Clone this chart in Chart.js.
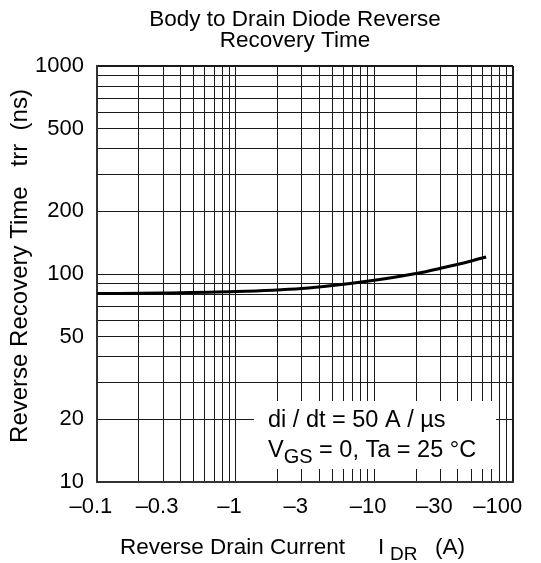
<!DOCTYPE html>
<html>
<head>
<meta charset="utf-8">
<script src="https://cdn.jsdelivr.net/npm/chart.js@4.4.0/dist/chart.umd.min.js"></script>
<style>
  html, body { margin: 0; padding: 0; background: #fff; }
  #wrap { width: 541px; height: 563px; }
</style>
</head>
<body>
<div id="wrap"><canvas id="trrChart" width="541" height="563"></canvas></div>
<script>
// reverse drain current (A, magnitude) and recovery time (ns)
var currentA = [0.1, 0.3, 1, 3, 5, 10, 20, 30, 50, 64];
var trrNs    = [80.5, 81.0, 82.3, 85.2, 88.0, 93.3, 100.5, 106.5, 115.5, 120.8];

// axis ticks
var xGridValues = [0.1, 0.2, 0.3, 0.4, 0.5, 0.6, 0.7, 0.8, 0.9,
                   1, 2, 3, 4, 5, 6, 7, 8, 9,
                   10, 20, 30, 40, 50, 60, 70, 80, 90, 100];
var xTickValues = [0.1, 0.3, 1, 3, 10, 30, 100];
var xTickLabels = ['\u20130.1', '\u20130.3', '\u20131', '\u20133', '\u201310', '\u201330', '\u2013100'];

var yGridValues = [10, 20, 30, 40, 50, 60, 70, 80, 90,
                   100, 200, 300, 400, 500, 600, 700, 800, 900, 1000];
var yTickValues = [10, 20, 50, 100, 200, 500, 1000];
var yTickLabels = ['10', '20', '50', '100', '200', '500', '1000'];

var FONT = '"Liberation Sans", Arial, Helvetica, sans-serif';

// plot frame a bit heavier than the grid
function xGridWidth(ctx) { return ctx.tick && ctx.tick.value === 100 ? 2 : 1; }
function yGridWidth(ctx) { return ctx.tick && ctx.tick.value === 1000 ? 2 : 1; }

var textPlugin = {
  id: 'textPlugin',
  afterDraw: function(chart) {
    var ctx = chart.ctx;
    ctx.save();
    ctx.fillStyle = '#000';

    // title
    ctx.font = '22.5px ' + FONT;
    ctx.textAlign = 'center';
    ctx.textBaseline = 'alphabetic';
    ctx.fillText('Body to Drain Diode Reverse', 295, 26);
    ctx.fillText('Recovery Time', 295, 47);

    // y axis title
    ctx.save();
    ctx.translate(27, 266);
    ctx.rotate(-Math.PI / 2);
    ctx.font = '24px ' + FONT;
    ctx.textAlign = 'center';
    ctx.fillText('Reverse Recovery Time   trr  (ns)', 0, 0);
    ctx.restore();

    // x axis title with subscript
    ctx.textAlign = 'left';
    ctx.font = '22.5px ' + FONT;
    ctx.fillText('Reverse Drain Current', 120, 554);
    ctx.fillText('I', 378, 554);
    ctx.font = '19px ' + FONT;
    ctx.fillText('DR', 390, 560);
    ctx.font = '22.5px ' + FONT;
    ctx.fillText('(A)', 435, 554);

    // condition box
    ctx.fillStyle = '#fff';
    ctx.fillRect(254, 401, 242, 68);
    ctx.fillStyle = '#000';
    ctx.font = '23.5px ' + FONT;
    ctx.fillText('di / dt = 50 A / \u00b5s', 268, 427);
    ctx.fillText('V', 268, 457);
    var w = ctx.measureText('V').width;
    ctx.font = '20px ' + FONT;
    ctx.fillText('GS', 268 + w, 463);
    var w2 = ctx.measureText('GS').width;
    ctx.font = '23.5px ' + FONT;
    ctx.fillText(' = 0, Ta = 25 \u00b0C', 268 + w + w2, 457);

    ctx.restore();
  }
};

var chart = new Chart(document.getElementById('trrChart'), {
  type: 'line',
  data: {
    datasets: [{
      data: currentA.map(function(x, i) { return { x: x, y: trrNs[i] }; }),
      borderColor: '#000',
      borderWidth: 3,
      pointRadius: 0,
      fill: false,
      cubicInterpolationMode: 'monotone'
    }]
  },
  options: {
    responsive: false,
    animation: false,
    devicePixelRatio: 1,
    layout: { padding: { left: 0, top: 66, right: 28, bottom: 0 } },
    plugins: {
      legend: { display: false },
      title: { display: false },
      tooltip: { enabled: false }
    },
    scales: {
      x: {
        type: 'logarithmic',
        min: 0.1,
        max: 100,
        afterBuildTicks: function(scale) {
          scale.ticks = xGridValues.map(function(v) { return { value: v }; });
        },
        afterFit: function(scale) {
          scale.height = 81;
          scale.paddingLeft = 0;
          scale.paddingRight = 0;
        },
        grid: { color: '#1a1a1a', lineWidth: xGridWidth, drawTicks: false },
        border: { color: '#333', width: 2 },
        ticks: {
          autoSkip: false,
          maxRotation: 0,
          padding: 12,
          color: '#000',
          font: { family: FONT, size: 22 },
          callback: function(value) {
            var i = xTickValues.indexOf(value);
            if (i < 0) return '';
            // trailing spaces so the number, not the minus sign, sits on the grid line
            // (last one pulled in a little more, as in the original)
            return xTickLabels[i] + (value === 100 ? '     ' : '  ');
          }
        }
      },
      y: {
        type: 'logarithmic',
        min: 10,
        max: 1000,
        afterBuildTicks: function(scale) {
          scale.ticks = yGridValues.map(function(v) { return { value: v }; });
        },
        afterFit: function(scale) {
          scale.width = 97;
          scale.paddingTop = 0;
          scale.paddingBottom = 0;
        },
        grid: { color: '#1a1a1a', lineWidth: yGridWidth, drawTicks: false },
        border: { color: '#333', width: 2 },
        ticks: {
          autoSkip: false,
          padding: 13,
          color: '#000',
          font: { family: FONT, size: 22 },
          callback: function(value) {
            var i = yTickValues.indexOf(value);
            return i < 0 ? '' : yTickLabels[i];
          }
        }
      }
    }
  },
  plugins: [textPlugin]
});
</script>
</body>
</html>
